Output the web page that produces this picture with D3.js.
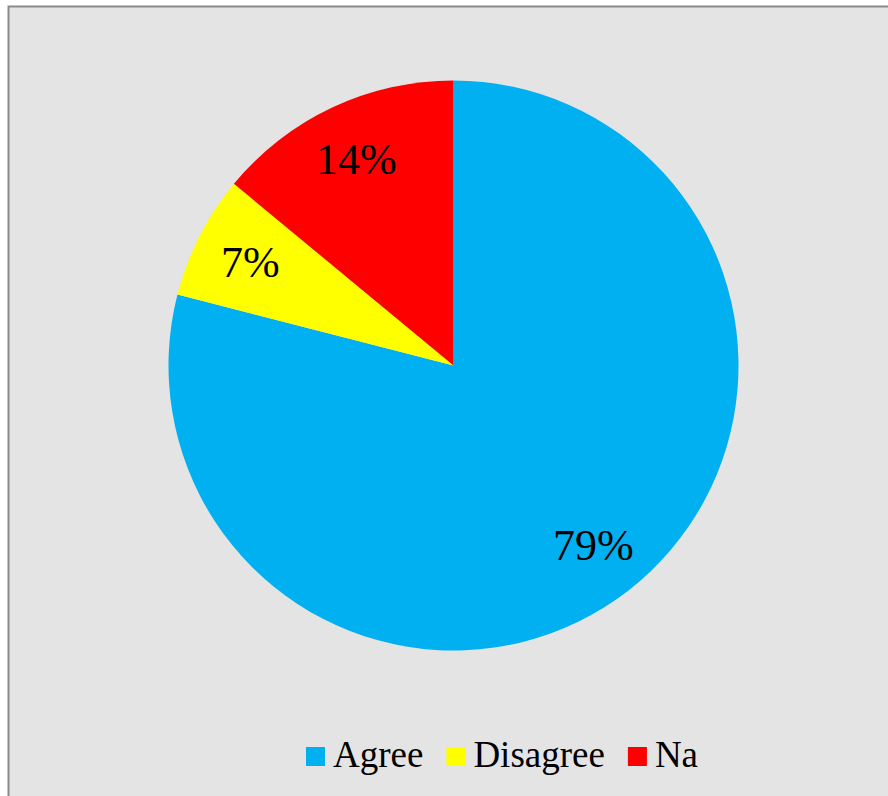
<!DOCTYPE html>
<html>
<head>
<meta charset="utf-8">
<script src="https://cdn.jsdelivr.net/npm/d3@7/dist/d3.min.js"></script>
<style>
  html, body { margin: 0; padding: 0; background: #ffffff; }
  svg { display: block; }
  text { font-family: "Liberation Serif", "Times New Roman", serif; fill: #000; }
</style>
</head>
<body>
<svg id="chart" width="888" height="796"></svg>
<script>
// Survey responses (percent)
const categories = ["Agree", "Disagree", "Na"];
const values = [79, 7, 14];
const labels = ["79%", "7%", "14%"];
const colors = ["#00B0F0", "#FFFF00", "#FF0000"];

const W = 888, H = 796;
const svg = d3.select("#chart");

// chart area panel
svg.append("rect")
  .attr("x", 8.5).attr("y", 6.5)
  .attr("width", W + 10).attr("height", H + 10)
  .attr("fill", "#e4e4e4")
  .attr("stroke", "#8a8a8a").attr("stroke-width", 2);

const cx = 453.5, cy = 365.5, r = 285;

const pie = d3.pie().sort(null).value(d => d)(values);
const arc = d3.arc().innerRadius(0).outerRadius(r);
const labelArc = d3.arc().innerRadius(r * 0.8).outerRadius(r * 0.8);

const g = svg.append("g").attr("transform", `translate(${cx},${cy})`);

g.selectAll("path.slice")
  .data(pie)
  .join("path")
  .attr("class", "slice")
  .attr("d", arc)
  .attr("fill", (d, i) => colors[i]);

const fs = 44;
g.selectAll("text.lbl")
  .data(pie)
  .join("text")
  .attr("class", "lbl")
  .attr("x", d => labelArc.centroid(d)[0])
  .attr("y", d => labelArc.centroid(d)[1] + fs * 0.33)
  .attr("text-anchor", "middle")
  .attr("font-size", fs)
  .text((d, i) => labels[i]);

// legend
const legend = svg.append("g").attr("transform", "translate(306,747)");
let lx = 0;
categories.forEach((c, i) => {
  const item = legend.append("g").attr("transform", `translate(${lx},0)`);
  item.append("rect")
    .attr("x", 0).attr("y", 0)
    .attr("width", 19).attr("height", 19)
    .attr("fill", colors[i]);
  const t = item.append("text")
    .attr("x", 27).attr("y", 20)
    .attr("font-size", 37)
    .text(c);
  const w = t.node().getComputedTextLength();
  lx += 27 + w + 23;
});
</script>
</body>
</html>
